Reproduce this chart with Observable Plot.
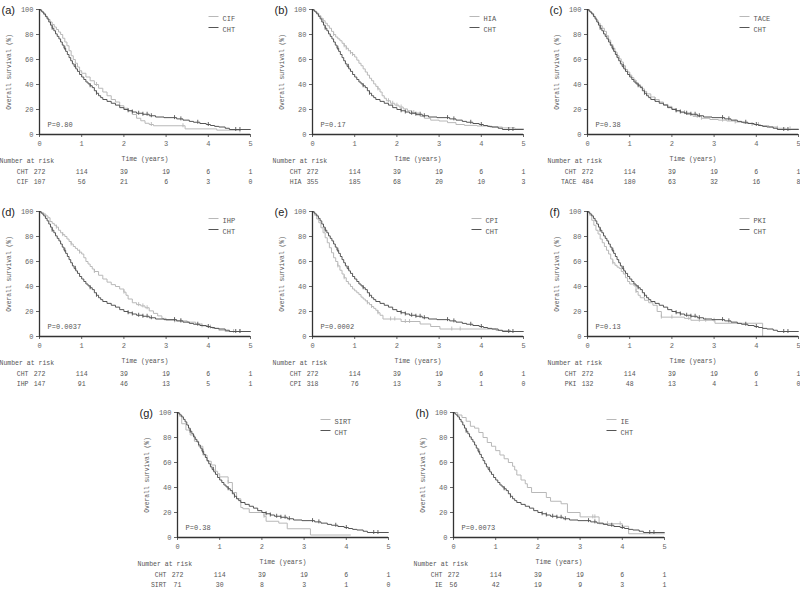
<!DOCTYPE html>
<html><head><meta charset="utf-8">
<script src="https://cdn.jsdelivr.net/npm/d3@7"></script>
<script src="https://cdn.jsdelivr.net/npm/@observablehq/plot@0.6"></script>
<style>
body{margin:0;background:#fff;}
#wrap{position:relative;width:800px;height:589px;overflow:hidden;background:#fff;}
#wrap > svg{position:absolute;overflow:visible;}
</style></head><body><div id="wrap"></div>
<script>
// ---------- data ----------
const TIME_TICKS = [0, 1, 2, 3, 4, 5];
const SURV_TICKS = [0, 20, 40, 60, 80, 100];
const RISK_TIMES = [0, 1, 2, 3, 4, 5];

// Kaplan-Meier step points [years, survival %]
const CHT = [[0,100],[0.03,99],[0.06,98],[0.1,96.5],[0.14,94.5],[0.18,92.5],[0.22,90],[0.26,87.5],[0.3,85],[0.34,83],[0.38,80.5],[0.42,78.5],[0.46,76.5],[0.5,74],[0.54,71.5],[0.58,69],[0.62,66.5],[0.66,64],[0.7,61.5],[0.74,59],[0.78,56.5],[0.82,54.5],[0.86,52.5],[0.9,50.5],[0.95,48],[1.0,46],[1.05,44],[1.1,42],[1.15,40.5],[1.2,39],[1.25,37.5],[1.3,35],[1.35,33],[1.4,31],[1.45,29.5],[1.5,28],[1.6,26.5],[1.7,25],[1.8,23.5],[1.9,21.5],[2.0,20],[2.1,19],[2.2,18],[2.3,17],[2.45,16.2],[2.6,15],[2.75,14],[2.95,13.5],[3.25,12.5],[3.4,11.5],[3.55,10.5],[3.65,9.8],[3.8,8.8],[3.95,8],[4.05,7.2],[4.15,6.5],[4.25,6],[4.4,5],[4.5,4],[5.0,4]];
const CHT_CENSOR = [0.3,0.6,0.85,1.2,1.35,2.1,2.2,2.35,2.45,2.55,2.65,3.2,3.35,3.75,4.0,4.65,4.75];

const CIF = [[0,100],[0.05,98],[0.1,96],[0.15,94],[0.2,92],[0.25,90],[0.3,88],[0.35,86],[0.4,84],[0.45,82],[0.5,80],[0.55,77],[0.6,74],[0.65,71],[0.7,67],[0.75,63],[0.8,60],[0.85,57],[0.9,54],[0.95,51],[1.0,49],[1.1,46],[1.2,43],[1.3,40],[1.4,37],[1.5,34],[1.6,31],[1.7,28],[1.8,26],[1.9,23],[2.0,21],[2.1,19],[2.2,16],[2.3,13],[2.4,11],[2.5,9],[2.6,8],[2.7,7],[3.45,4.5],[4.2,3.5],[4.75,2]];
const CIF_CENSOR = [1.35,2.65,3.4];

const HIA = [[0,100],[0.05,98.5],[0.1,97],[0.15,95],[0.2,93],[0.25,91],[0.3,89],[0.35,87],[0.4,85],[0.45,82.5],[0.5,80],[0.55,78],[0.6,76.5],[0.65,75],[0.7,73],[0.75,71],[0.8,69],[0.85,67],[0.9,65.5],[0.95,64],[1.0,62],[1.05,59.5],[1.1,57],[1.15,55],[1.2,52.5],[1.25,50],[1.3,47.5],[1.35,45],[1.4,43],[1.45,40.5],[1.5,38.5],[1.55,36.5],[1.6,34],[1.65,31],[1.7,29],[1.75,27],[1.85,25],[1.95,23.5],[2.05,22],[2.15,20.5],[2.25,19],[2.35,17.5],[2.45,16],[2.55,14.5],[2.65,13],[2.8,11.5],[3.0,10.8],[3.2,9.5],[3.4,8],[3.6,7.3],[3.9,6.8],[4.2,6],[4.5,5.3],[4.8,4.5],[5.0,4.5]];
const HIA_CENSOR = [0.25,0.5,0.75,0.8,0.9,0.95,1.55,1.8,1.9,2.0,2.1,2.4,2.5];

const TACE = [[0,100],[0.05,98],[0.1,96.5],[0.15,94],[0.2,91.5],[0.25,89],[0.3,87],[0.35,85],[0.4,82.5],[0.45,79],[0.5,75.5],[0.55,72],[0.6,69],[0.65,66],[0.7,63],[0.75,60.5],[0.8,58],[0.85,55],[0.9,52],[0.95,50],[1.0,47.5],[1.05,45.5],[1.1,43.5],[1.15,41.5],[1.2,40],[1.25,38.5],[1.3,36.5],[1.35,34.5],[1.4,32.5],[1.5,30],[1.6,28],[1.7,26],[1.8,24],[1.9,22.5],[2.0,20.5],[2.1,19],[2.2,17.5],[2.35,16],[2.5,14.5],[2.7,13],[2.9,12],[3.1,11.5],[3.3,10.8],[3.5,10],[3.7,9],[3.9,8],[4.1,7],[4.3,6],[4.5,5],[4.7,4.5],[5.0,4]];
const TACE_CENSOR = [0.55,0.7,1.0,1.15,1.4,1.6,1.9,2.1,2.3,2.6,2.7,3.2,3.5,3.9,4.05,4.5,4.8];

const IHP = [[0,100],[0.05,99],[0.1,98],[0.15,96.5],[0.2,95],[0.25,92],[0.3,90.5],[0.35,89],[0.4,87.5],[0.45,85],[0.5,83],[0.55,81.5],[0.6,80],[0.65,78],[0.7,76],[0.75,74],[0.8,72],[0.85,70.5],[0.9,69],[0.95,67.5],[1.0,66],[1.05,63],[1.1,60],[1.15,58],[1.2,56],[1.25,54],[1.3,52],[1.4,49],[1.5,46],[1.6,43.5],[1.7,41.5],[1.8,40],[1.9,38],[2.0,35.5],[2.05,33],[2.1,30],[2.2,27],[2.3,25.5],[2.4,24.5],[2.5,23],[2.6,20.5],[2.7,18.5],[2.8,16.5],[2.9,14.5],[3.0,13],[3.2,12.5],[3.5,11.5],[3.7,10],[3.85,8.5],[4.0,7.5],[4.1,6.5],[4.25,5],[4.4,4],[5.0,4]];
const IHP_CENSOR = [0.4,0.55,0.75,0.95,1.3,2.0,2.35,2.45,2.55,3.2,3.35,3.85,4.05,4.6,4.75];

const CPI = [[0,100],[0.05,97],[0.1,94],[0.15,91],[0.2,87],[0.25,83],[0.3,79],[0.35,75],[0.4,71],[0.45,67],[0.5,63],[0.55,60],[0.6,56.5],[0.65,53],[0.7,50],[0.75,47],[0.8,44],[0.85,42],[0.9,40],[0.95,38],[1.0,36.5],[1.05,35],[1.1,33.5],[1.15,31.5],[1.2,30],[1.25,28.5],[1.3,27],[1.35,25.5],[1.4,24],[1.45,22.5],[1.5,21],[1.55,19],[1.6,17],[1.67,14],[2.1,12],[2.55,10],[2.8,8],[3.02,6],[4.35,4.8],[4.7,4.8]];
const CPI_CENSOR = [0.6,0.75,1.3,1.4,1.55,1.85,1.95,2.2,2.3,3.3,3.5];

const PKI = [[0,100],[0.05,97],[0.1,93],[0.15,89],[0.2,85],[0.25,82],[0.3,78],[0.35,75],[0.4,72],[0.45,69],[0.5,66],[0.55,62],[0.6,59],[0.65,57],[0.7,55.5],[0.75,54.5],[0.8,52],[0.85,50],[0.9,47],[0.95,44],[1.0,42],[1.1,40.5],[1.15,36],[1.2,33],[1.25,31],[1.35,29],[1.45,27],[1.55,25],[1.65,20],[1.75,15.5],[2.3,14.5],[2.45,13],[3.02,10.6],[4.15,0]];
const PKI_CENSOR = [0.6,1.15,1.75,2.0,2.4,2.65,2.8,3.0];

const SIRT = [[0,100],[0.05,97],[0.1,91],[0.2,86],[0.3,82],[0.4,77],[0.5,73],[0.6,66],[0.7,61],[0.8,58],[0.9,53],[0.95,51],[1.0,48.5],[1.2,44],[1.3,36],[1.4,31],[1.5,24],[1.55,23],[1.7,20],[2.05,17],[2.1,13],[2.4,11.5],[2.6,7],[3.15,2],[4.1,2]];
const SIRT_CENSOR = [1.2,2.05];

const IE = [[0,100],[0.1,98],[0.2,96],[0.3,93],[0.4,89],[0.5,87.5],[0.6,84],[0.7,80],[0.8,76],[0.9,73],[1.0,69.5],[1.1,66],[1.2,63],[1.3,60],[1.4,57],[1.45,54],[1.5,50],[1.6,46],[1.7,43],[1.75,40],[1.85,36],[2.2,32],[2.3,29],[2.55,27],[2.7,20],[3.0,16.5],[3.45,11],[4.0,9],[4.15,3],[5.0,3]];
const IE_CENSOR = [3.3,3.35,3.65,3.95];

// number at risk
const RISK_CHT  = [272,114,39,19,6,1];
const RISK_CIF  = [107,56,21,6,3,0];
const RISK_HIA  = [355,185,68,20,10,3];
const RISK_TACE = [484,180,63,32,16,8];
const RISK_IHP  = [147,91,46,13,5,1];
const RISK_CPI  = [318,76,13,3,1,0];
const RISK_PKI  = [132,48,13,4,1,0];
const RISK_SIRT = [71,30,8,3,1,0];
const RISK_IE   = [56,42,19,9,3,1];

const TAGS   = ["(a)","(b)","(c)","(d)","(e)","(f)","(g)","(h)"];
const GROUPS = ["CIF","HIA","TACE","IHP","CPI","PKI","SIRT","IE"];
const PVALS  = ["0.80","0.17","0.38","0.0037","0.0002","0.13","0.38","0.0073"];
const CURVES = [CIF,HIA,TACE,IHP,CPI,PKI,SIRT,IE];
const CENSORS = [CIF_CENSOR,HIA_CENSOR,TACE_CENSOR,IHP_CENSOR,CPI_CENSOR,PKI_CENSOR,SIRT_CENSOR,IE_CENSOR];
const RISKS = [RISK_CIF,RISK_HIA,RISK_TACE,RISK_IHP,RISK_CPI,RISK_PKI,RISK_SIRT,RISK_IE];

// ---------- layout / style ----------
const FRAME_W = 211, FRAME_H = 125;
const M = {left: 42, right: 8, top: 12, bottom: 58};
const LAYOUT = [
  {x0: 39,  y0: 9,     leg: 174},
  {x0: 312, y0: 9,     leg: 162},
  {x0: 587, y0: 9,     leg: 157},
  {x0: 39,  y0: 211,   leg: 174},
  {x0: 312, y0: 211,   leg: 164},
  {x0: 587, y0: 211,   leg: 157},
  {x0: 177, y0: 411.5, leg: 148},
  {x0: 453, y0: 411.5, leg: 158}
];
const DARK = "#555", LIGHT = "#b8b8b8", TXT = "#555";
const FONT = "'Liberation Mono', 'DejaVu Sans Mono', monospace";

const vTick = {draw(ctx, size){ const r = Math.sqrt(size/Math.PI); ctx.moveTo(0,-r); ctx.lineTo(0,r*0.6); }};
const hDash = {draw(ctx, size){ const r = Math.sqrt(size/Math.PI); ctx.moveTo(-r,0); ctx.lineTo(r,0); }};

function stepAt(curve, t){ let s = curve[0][1]; for (const [tt, ss] of curve) { if (tt <= t) s = ss; else break; } return s; }

const wrap = document.getElementById("wrap");

GROUPS.forEach((g, i) => {
  const L = LAYOUT[i];
  const other = CURVES[i].map(([t,s]) => ({t, s}));
  const cht = CHT.map(([t,s]) => ({t, s}));
  const oc = CENSORS[i].map(t => ({t, s: stepAt(CURVES[i], t)}));
  const cc = CHT_CENSOR.map(t => ({t, s: stepAt(CHT, t)}));
  const riskC = RISK_TIMES.map((t,k) => ({t, n: RISK_CHT[k]}));
  const riskO = RISK_TIMES.map((t,k) => ({t, n: RISKS[i][k]}));

  const plot = Plot.plot({
    width: M.left + FRAME_W + M.right,
    height: M.top + FRAME_H + M.bottom,
    marginLeft: M.left, marginRight: M.right, marginTop: M.top, marginBottom: M.bottom,
    x: {domain: [0, 5], ticks: TIME_TICKS, tickFormat: d => String(d), tickSize: 3, tickPadding: 4, label: null},
    y: {domain: [0, 100], ticks: SURV_TICKS, tickFormat: d => String(d), tickSize: 3, tickPadding: 3, label: null},
    style: {fontFamily: FONT, fontSize: "7px", color: "#666", background: "transparent", overflow: "visible"},
    marks: [
      Plot.line(other, {x: "t", y: "s", curve: "step-after", stroke: LIGHT, strokeWidth: 1}),
      Plot.dot(oc, {x: "t", y: "s", symbol: vTick, r: 2.5, stroke: LIGHT, fill: "none", strokeWidth: 0.9}),
      Plot.line(cht, {x: "t", y: "s", curve: "step-after", stroke: DARK, strokeWidth: 1}),
      Plot.dot(cc, {x: "t", y: "s", symbol: vTick, r: 2.5, stroke: DARK, fill: "none", strokeWidth: 0.9}),
      Plot.ruleX([0], {stroke: "#333", strokeWidth: 1.3}),
      Plot.ruleY([0], {stroke: "#333", strokeWidth: 1.3}),
      // legend
      Plot.dot([g], {frameAnchor: "top-left", dx: L.leg, dy: 7, symbol: hDash, r: 5, stroke: LIGHT, fill: "none", strokeWidth: 1}),
      Plot.dot(["CHT"], {frameAnchor: "top-left", dx: L.leg, dy: 18, symbol: hDash, r: 5, stroke: DARK, fill: "none", strokeWidth: 1}),
      Plot.text([g], {frameAnchor: "top-left", dx: L.leg + 9, dy: 7, textAnchor: "start", fill: TXT, fontSize: 7}),
      Plot.text(["CHT"], {frameAnchor: "top-left", dx: L.leg + 9, dy: 18, textAnchor: "start", fill: TXT, fontSize: 7}),
      // p-value
      Plot.text(["P=" + PVALS[i]], {frameAnchor: "bottom-left", dx: 8, dy: -8, textAnchor: "start", fill: TXT, fontSize: 7}),
      // panel tag
      Plot.text([TAGS[i]], {frameAnchor: "top-left", dx: -38, dy: -3, textAnchor: "start", fontSize: 11, fontFamily: "'Liberation Sans', sans-serif", fill: "#222"}),
      // axis titles
      Plot.text(["Overall survival (%)"], {frameAnchor: "left", dx: -31, rotate: -90, textAnchor: "middle", fill: TXT, fontSize: 6.3}),
      Plot.text(["Time (years)"], {frameAnchor: "bottom", dy: 26, textAnchor: "middle", fill: TXT, fontSize: 6.5}),
      // number at risk
      Plot.text(["Number at risk"], {frameAnchor: "bottom-left", dx: -40, dy: 28, textAnchor: "start", fill: TXT, fontSize: 6.5}),
      Plot.text(["CHT"], {frameAnchor: "bottom-left", dx: -11, dy: 39, textAnchor: "end", fill: TXT, fontSize: 6.5}),
      Plot.text([g], {frameAnchor: "bottom-left", dx: -11, dy: 49, textAnchor: "end", fill: TXT, fontSize: 6.5}),
      Plot.text(riskC, {x: "t", text: "n", frameAnchor: "bottom", dy: 39, fill: TXT, fontSize: 6.5}),
      Plot.text(riskO, {x: "t", text: "n", frameAnchor: "bottom", dy: 49, fill: TXT, fontSize: 6.5})
    ]
  });
  plot.style.left = (L.x0 - M.left) + "px";
  plot.style.top = (L.y0 - M.top) + "px";
  wrap.appendChild(plot);
});
</script>
</body></html>
